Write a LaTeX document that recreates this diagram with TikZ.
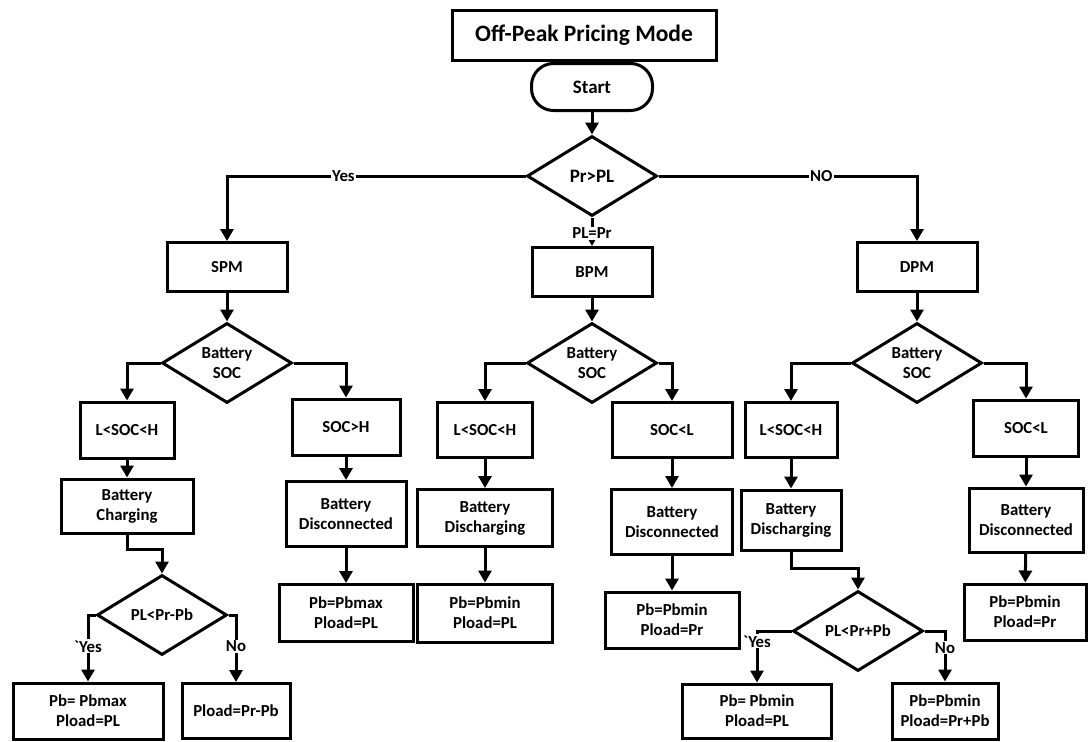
\documentclass[tikz,border=0pt]{standalone}
\usepackage{fontspec}
\setmainfont{Carlito}
\usetikzlibrary{shapes.geometric,arrows.meta}
\tikzset{
  txt/.style={font=\bfseries\fontsize{16.8}{20}\selectfont, align=center, inner sep=0pt},
  bigtxt/.style={font=\bfseries\fontsize{19}{22}\selectfont},
  box/.style={txt, draw, line width=3pt, rectangle},
  dec/.style={txt, draw, line width=3pt, diamond, shape aspect=1.6, minimum width=130pt, minimum height=80pt},
  arr/.style={line width=3pt, -{Triangle[length=12pt,width=13pt]}},
  lbl/.style={txt, fill=white, inner sep=1pt}
}
\begin{document}
\begin{tikzpicture}[x=1pt,y=-1pt]
\useasboundingbox (0,0) rectangle (1088,742);
\fill[white] (0,0) rectangle (1088,742);

% top
\node[box, font=\bfseries\fontsize{23.5}{28}\selectfont, minimum width=264pt, minimum height=50pt] (title) at (584,35) {Off-Peak Pricing Mode};
\node[box, bigtxt, rounded corners=22pt, minimum width=121pt, minimum height=47pt] (start) at (592,87) {Start};
\node[dec, bigtxt] (d1) at (592,176) {Pr>PL};

% modes
\node[box, minimum width=120pt, minimum height=49pt] (spm) at (227,267) {SPM};
\node[box, minimum width=120pt, minimum height=49pt] (bpm) at (592,272) {BPM};
\node[box, minimum width=120pt, minimum height=49pt] (dpm) at (917,267) {DPM};

% SOC decisions
\node[dec] (soc1) at (227,363) {Battery\\SOC};
\node[dec] (soc2) at (592,363) {Battery\\SOC};
\node[dec] (soc3) at (917,363) {Battery\\SOC};

% SOC ranges
\node[box, minimum width=94pt, minimum height=56pt] (a1) at (127,430) {L<SOC<H};
\node[box, minimum width=108pt, minimum height=56pt] (a2) at (346,427) {SOC>H};
\node[box, minimum width=95pt, minimum height=55pt] (a3) at (485,430) {L<SOC<H};
\node[box, minimum width=120pt, minimum height=55pt] (a4) at (672,430) {SOC<L};
\node[box, minimum width=92pt, minimum height=55pt] (a5) at (791,430) {L<SOC<H};
\node[box, minimum width=105pt, minimum height=56pt] (a6) at (1026,428) {SOC<L};

% battery states
\node[box, minimum width=132pt, minimum height=54pt] (b1) at (127,506) {Battery\\Charging};
\node[box, minimum width=120pt, minimum height=65pt] (b2) at (346,514) {Battery\\Disconnected};
\node[box, minimum width=135pt, minimum height=57pt] (b3) at (485,518) {Battery\\Discharging};
\node[box, minimum width=121pt, minimum height=65pt] (b4) at (672,522) {Battery\\Disconnected};
\node[box, minimum width=100pt, minimum height=60pt] (b5) at (791,520) {Battery\\Discharging};
\node[box, minimum width=114pt, minimum height=64pt] (b6) at (1026,520) {Battery\\Disconnected};

% results
\node[box, minimum width=134pt, minimum height=57pt] (c2) at (346,613) {Pb=Pbmax\\Pload=PL};
\node[box, minimum width=135pt, minimum height=58pt] (c3) at (485,613) {Pb=Pbmin\\Pload=PL};
\node[box, minimum width=134pt, minimum height=56pt] (c4) at (672,620) {Pb=Pbmin\\Pload=Pr};
\node[box, minimum width=122pt, minimum height=56pt] (c6) at (1025,612) {Pb=Pbmin\\Pload=Pr};

% second-level decisions
\node[dec] (dl) at (162,615) {PL<Pr-Pb};
\node[dec] (dr) at (858,631) {PL<Pr+Pb};

\node[box, minimum width=150pt, minimum height=56pt] (e1) at (88,711) {Pb= Pbmax\\Pload=PL};
\node[box, minimum width=108pt, minimum height=55pt] (e2) at (236,711) {Pload=Pr-Pb};
\node[box, minimum width=149pt, minimum height=54pt] (e3) at (757,711) {Pb= Pbmin\\Pload=PL};
\node[box, minimum width=106pt, minimum height=56pt] (e4) at (945,711) {Pb=Pbmin\\Pload=Pr+Pb};

% connectors
\draw[arr] (start) -- (d1);
\draw[arr] (d1.west) -- node[lbl, pos=0.61]{Yes} (d1.west -| spm.north) -- (spm.north);
\draw[arr] (d1.east) -- node[lbl, pos=0.63]{NO} (d1.east -| dpm.north) -- (dpm.north);
\draw[arr] (d1.south) -- node[lbl, pos=0.55]{PL=Pr} (bpm.north);

\draw[arr] (spm) -- (soc1);
\draw[arr] (bpm) -- (soc2);
\draw[arr] (dpm) -- (soc3);

\draw[arr] (soc1.west) -| (a1.north);
\draw[arr] (soc1.east) -| (a2.north);
\draw[arr] (soc2.west) -| (a3.north);
\draw[arr] (soc2.east) -| (a4.north);
\draw[arr] (soc3.west) -| (a5.north);
\draw[arr] (soc3.east) -| (a6.north);

\draw[arr] (a1) -- (b1);
\draw[arr] (a2) -- (b2);
\draw[arr] (a3) -- (b3);
\draw[arr] (a4) -- (b4);
\draw[arr] (a5) -- (b5);
\draw[arr] (a6) -- (b6);

\draw[arr] (b2) -- (c2);
\draw[arr] (b3) -- (c3);
\draw[arr] (b4) -- (c4);
\draw[arr] (b6) -- (c6);

\draw[arr] (b1.south) -- ++(0,15) -| (dl.north);
\draw[arr] (b5.south) -- ++(0,17) -| (dr.north);

\draw[arr] (dl.west) -- (dl.west -| e1.north) -- node[lbl, pos=0.47]{\textasciigrave Yes} (e1.north);
\draw[arr] (dl.east) -- (dl.east -| e2.north) -- node[lbl, pos=0.47]{No} (e2.north);
\draw[arr] (dr.west) -- (dr.west -| e3.north) -- node[lbl, pos=0.2]{\textasciigrave Yes} (e3.north);
\draw[arr] (dr.east) -- (dr.east -| e4.north) -- node[lbl, pos=0.33]{No} (e4.north);
\end{tikzpicture}
\end{document}
